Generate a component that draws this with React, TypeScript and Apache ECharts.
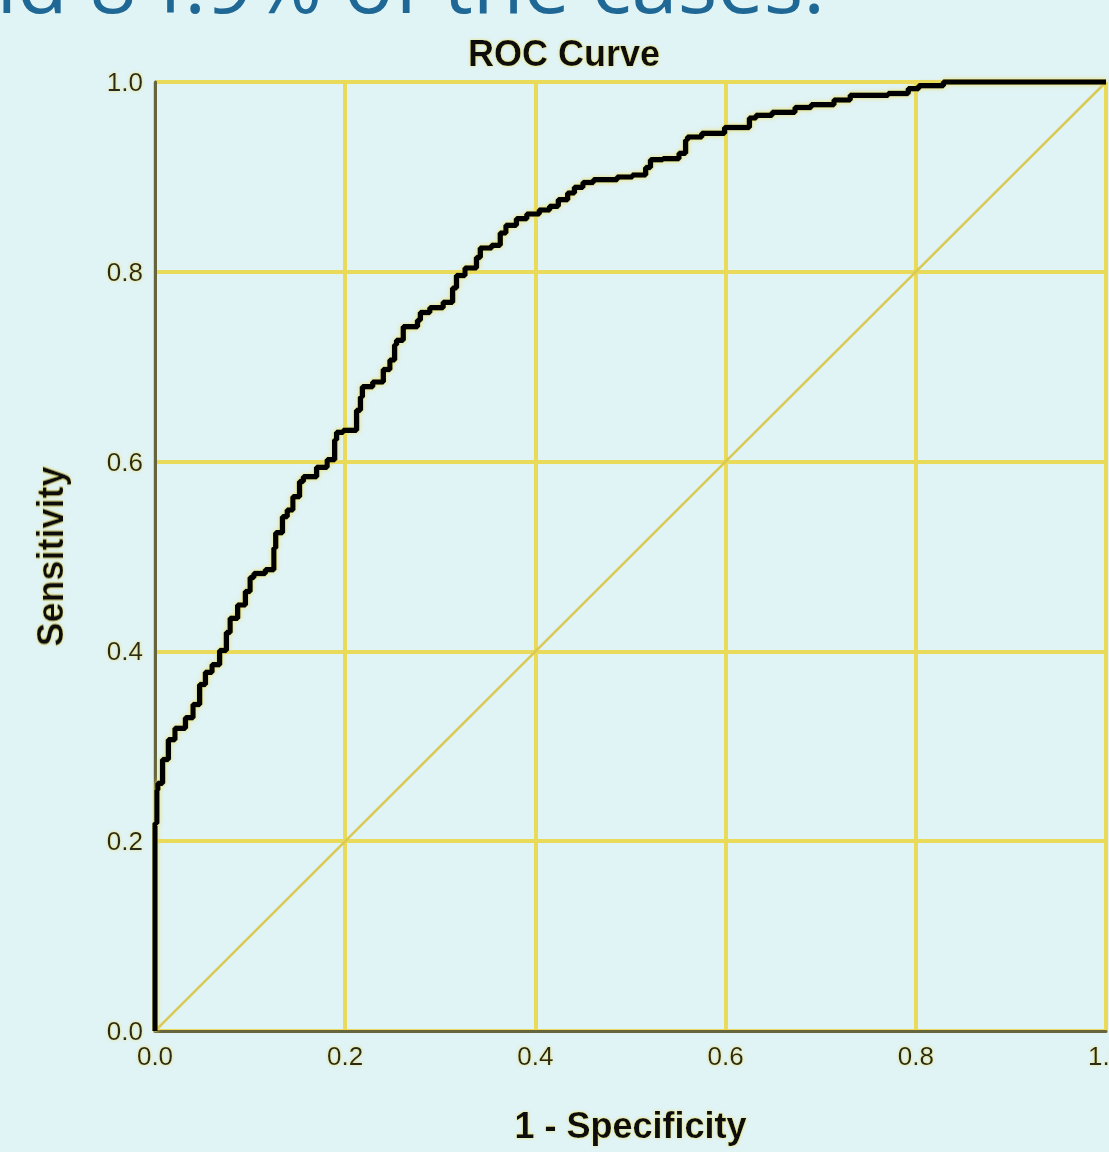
import React, { useEffect, useRef } from "react";
import * as echarts from "echarts";

const fpr = [
  0, 0.002, 0.003, 0.008, 0.014, 0.021, 0.032, 0.04, 0.047, 0.053, 0.06, 0.068, 0.075, 0.079,
  0.087, 0.095, 0.1, 0.104, 0.116, 0.125, 0.127, 0.134, 0.139, 0.145, 0.152, 0.156, 0.17,
  0.181, 0.189, 0.191, 0.198, 0.212, 0.216, 0.218, 0.229, 0.24, 0.247, 0.252, 0.254, 0.261,
  0.261, 0.276, 0.279, 0.289, 0.303, 0.313, 0.317, 0.326, 0.338, 0.342, 0.354, 0.363, 0.369,
  0.38, 0.391, 0.404, 0.415, 0.424, 0.434, 0.441, 0.45, 0.461, 0.486, 0.502, 0.516, 0.521,
  0.534, 0.551, 0.558, 0.56, 0.575, 0.599, 0.625, 0.632, 0.649, 0.673, 0.69, 0.714, 0.731,
  0.742, 0.771, 0.792, 0.803, 0.829, 0.84, 1,
];
const tpr = [
  0, 0.219, 0.254, 0.261, 0.286, 0.307, 0.319, 0.33, 0.344, 0.365, 0.378, 0.386, 0.401, 0.42,
  0.435, 0.449, 0.463, 0.478, 0.482, 0.486, 0.509, 0.525, 0.542, 0.549, 0.563, 0.579, 0.584,
  0.594, 0.602, 0.623, 0.631, 0.633, 0.654, 0.668, 0.679, 0.684, 0.697, 0.707, 0.723, 0.728,
  0.741, 0.742, 0.749, 0.757, 0.762, 0.768, 0.783, 0.796, 0.804, 0.815, 0.825, 0.828, 0.841,
  0.849, 0.856, 0.861, 0.865, 0.869, 0.876, 0.883, 0.889, 0.894, 0.897, 0.9, 0.902, 0.91,
  0.918, 0.919, 0.925, 0.939, 0.942, 0.946, 0.952, 0.962, 0.965, 0.968, 0.973, 0.976, 0.981,
  0.986, 0.986, 0.988, 0.993, 0.996, 1, 1,
];
const referenceLine = [
  [0, 0],
  [1, 1],
];
const tickLabels = ["0.0", "0.2", "0.4", "0.6", "0.8", "1.0"];
const chartTitle = "ROC Curve";
const xName = "1 - Specificity";
const yName = "Sensitivity";
const slideText = "and 84.9% of the cases.";

const FONT = "'Liberation Sans', Arial, sans-serif";
const halo = { textShadowColor: "rgba(236,222,90,0.95)", textShadowBlur: 3 };

export default function App() {
  const ref = useRef<HTMLDivElement>(null);
  useEffect(() => {
    if (!ref.current) return;
    const chart = echarts.init(ref.current, undefined, { renderer: "svg" });
    const roc = fpr.map((x, i) => [x, tpr[i]]);
    const fmt = (v: number) => tickLabels[Math.round(v / 0.2)] ?? v.toFixed(1);
    const axisCommon = {
      type: "value" as const,
      min: 0,
      max: 1,
      interval: 0.2,
      axisLine: { show: true, lineStyle: { color: "#66653e", width: 3 } },
      axisTick: { show: false },
      splitLine: { show: true, lineStyle: { color: "#e9da5a", width: 4 } },
      nameLocation: "middle" as const,
      nameTextStyle: {
        fontFamily: FONT,
        fontSize: 36,
        fontWeight: "bold" as const,
        color: "#111",
        ...halo,
      },
    };
    const labelStyle = {
      formatter: fmt,
      fontFamily: FONT,
      fontSize: 26,
      color: "#2a2a1e",
      margin: 12,
      ...halo,
    };
    chart.setOption({
      animation: false,
      backgroundColor: "#e0f3f5",
      title: {
        text: chartTitle,
        left: 559,
        top: 30,
        textAlign: "center",
        textStyle: {
          fontFamily: FONT,
          fontSize: 36,
          fontWeight: "bold",
          color: "#111",
          ...halo,
        },
      },
      graphic: [
        {
          type: "text",
          x: -80,
          y: -20,
          silent: true,
          style: {
            text: slideText,
            fontFamily: "'Open Sans', sans-serif",
            fontSize: 83,
            fill: "#1f6896",
            verticalAlign: "middle",
            align: "left",
          },
        },
      ],
      grid: {
        left: 155,
        top: 82,
        right: 3,
        bottom: 121,
        containLabel: false,
        outerBoundsMode: "none",
      },
      xAxis: {
        ...axisCommon,
        name: xName,
        nameGap: 76,
        axisLabel: labelStyle,
      },
      yAxis: {
        ...axisCommon,
        name: yName,
        nameGap: 87,
        axisLabel: labelStyle,
      },
      series: [
        {
          type: "line",
          data: referenceLine,
          showSymbol: false,
          silent: true,
          z: 2,
          lineStyle: { color: "#d9c955", width: 2.5 },
        },
        {
          type: "line",
          data: roc,
          step: "start",
          showSymbol: false,
          silent: true,
          clip: false,
          z: 3,
          lineStyle: {
            color: "#000",
            width: 5.5,
            shadowColor: "rgba(236,222,90,0.9)",
            shadowBlur: 4,
          },
        },
      ],
    });
    return () => chart.dispose();
  }, []);
  return (
    <div
      ref={ref}
      style={{ position: "fixed", left: 0, top: 0, width: 1109, height: 1152 }}
    />
  );
}
